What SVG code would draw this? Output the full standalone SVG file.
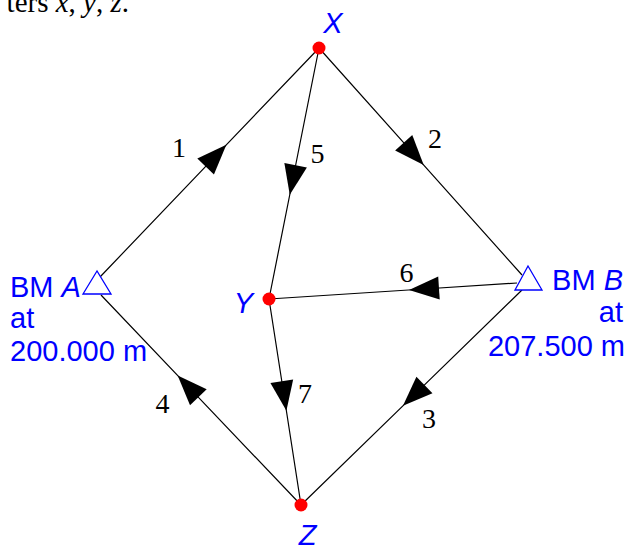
<svg xmlns="http://www.w3.org/2000/svg" width="627" height="547" viewBox="0 0 627 547">
<style>
.ln{fill:none;stroke:#000;stroke-width:1.2;marker-mid:url(#ah)}
.bl{font-family:"Liberation Sans",Arial,sans-serif;font-size:29px;fill:#0000ff}
.num{font-family:"Liberation Serif","Times New Roman",serif;font-size:28px;fill:#000;text-anchor:middle}
.dot{fill:#ff0000}
.tri{fill:#fff;stroke:#0000ff;stroke-width:1.3}
.it{font-style:italic}
</style>
<defs>
<marker id="ah" viewBox="-16 -12 32 24" markerWidth="32" markerHeight="24" refX="0" refY="0" orient="auto" markerUnits="userSpaceOnUse">
<path d="M-15,-11.5 L15,0 L-15,11.5 z" fill="#000"/>
</marker>
</defs>
<rect width="627" height="547" fill="#fff"/>
<text x="129" y="12" text-anchor="end" style="font-family:'Liberation Serif','Times New Roman',serif;font-size:29px;fill:#000">ters <tspan class="it">x</tspan>, <tspan class="it">y</tspan>, <tspan class="it">z</tspan>.</text>
<g id="connectors">
<path class="ln" d="M100,277 L216,155.7 L319,48"/>
<path class="ln" d="M319,48 L413.7,153.9 L522,275"/>
<path class="ln" d="M319,48 L292.7,180 L269,299"/>
<path class="ln" d="M517,283 L424,289 L269,299"/>
<path class="ln" d="M522,290 L413.7,395.4 L301,505"/>
<path class="ln" d="M301,505 L188,386.4 L101,295"/>
<path class="ln" d="M269,299 L284.1,396 L301,505"/>
<text class="num" x="179" y="157">1</text>
<text class="num" x="435" y="148">2</text>
<text class="num" x="429" y="428">3</text>
<text class="num" x="162.5" y="413">4</text>
<text class="num" x="317.5" y="163">5</text>
<text class="num" x="406.5" y="282">6</text>
<text class="num" x="305" y="403">7</text>
</g>
<g id="X">
<circle class="dot" cx="319" cy="48" r="6.5"/>
<text class="bl it" x="333" y="33" text-anchor="middle">X</text>
</g>
<g id="Y">
<circle class="dot" cx="269" cy="299" r="6.5"/>
<text class="bl it" x="243.5" y="313" text-anchor="middle">Y</text>
</g>
<g id="Z">
<circle class="dot" cx="301" cy="505" r="6.5"/>
<text class="bl it" x="307.5" y="545" text-anchor="middle">Z</text>
</g>
<g id="A">
<polygon class="tri" points="97,271 83,294 111,294"/>
<text class="bl" x="10" y="297">BM <tspan class="it">A</tspan></text>
<text class="bl" x="10" y="328">at</text>
<text class="bl" x="10" y="361">200.000 m</text>
</g>
<g id="B">
<polygon class="tri" points="528,266 515,290 542,290"/>
<text class="bl" x="623" y="290" text-anchor="end">BM <tspan class="it">B</tspan></text>
<text class="bl" x="623" y="322" text-anchor="end">at</text>
<text class="bl" x="625" y="356" text-anchor="end">207.500 m</text>
</g>
</svg>
